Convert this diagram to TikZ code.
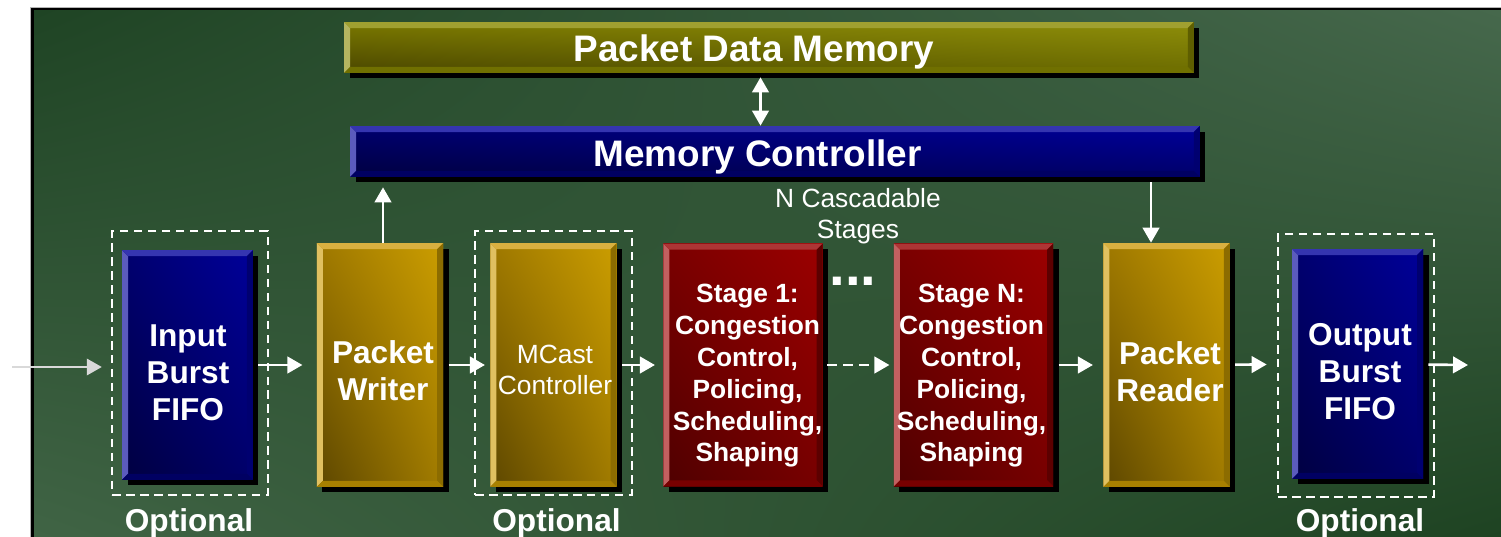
\documentclass[tikz,border=0pt]{standalone}
\usepackage{fontspec}
\setmainfont{Liberation Sans}
\usetikzlibrary{arrows.meta,shadows,shadings}

% panel colours
\definecolor{pnlDark}{HTML}{1F4424}
\definecolor{pnlLightTR}{HTML}{46684C}
\definecolor{pnlLightBL}{HTML}{406445}
\definecolor{pnlDarkBR}{HTML}{1E4322}
\definecolor{pnlRule}{HTML}{B4B4B4}
\definecolor{inGray}{HTML}{D9D9D9}
% block colours: shading (ul, ur, ll, lr) and bevels (left, top, right, bottom)
\definecolor{bluUL}{HTML}{00006E}\definecolor{bluUR}{HTML}{00009A}
\definecolor{bluLL}{HTML}{000040}\definecolor{bluLR}{HTML}{00006A}
\definecolor{bluL}{HTML}{5B5BBD}\definecolor{bluT}{HTML}{3535B0}
\definecolor{bluR}{HTML}{000070}\definecolor{bluB}{HTML}{000062}
\definecolor{gldUL}{HTML}{9E7800}\definecolor{gldUR}{HTML}{CC9E00}
\definecolor{gldLL}{HTML}{5C4600}\definecolor{gldLR}{HTML}{A27C00}
\definecolor{gldL}{HTML}{E0C060}\definecolor{gldT}{HTML}{D9B040}
\definecolor{gldR}{HTML}{8C6C00}\definecolor{gldB}{HTML}{A88000}
\definecolor{redUL}{HTML}{7A0000}\definecolor{redUR}{HTML}{9C0000}
\definecolor{redLL}{HTML}{4E0000}\definecolor{redLR}{HTML}{780000}
\definecolor{redL}{HTML}{C26060}\definecolor{redT}{HTML}{AD3535}
\definecolor{redR}{HTML}{5C0000}\definecolor{redB}{HTML}{780000}
\definecolor{olvUL}{HTML}{7A7800}\definecolor{olvUR}{HTML}{8E8E0A}
\definecolor{olvLL}{HTML}{4A4600}\definecolor{olvLR}{HTML}{6C6C00}
\definecolor{olvL}{HTML}{B5B560}\definecolor{olvT}{HTML}{A0A030}
\definecolor{olvR}{HTML}{5E5E00}\definecolor{olvB}{HTML}{707000}
\colorlet{bevL}{white}
\colorlet{bevT}{white}
\colorlet{bevR}{black}
\colorlet{bevB}{black}

\tikzset{
  bevel colors/.code n args={4}{\colorlet{bevL}{#1}\colorlet{bevT}{#2}\colorlet{bevR}{#3}\colorlet{bevB}{#4}},
  block/.style={rectangle, inner sep=0pt,
    drop shadow={shadow xshift=0.11cm, shadow yshift=-0.11cm, opacity=1, fill=black},
    path picture={
      \fill[bevL] (path picture bounding box.south west) -- (path picture bounding box.north west)
        -- ([shift={(0.12cm,-0.12cm)}]path picture bounding box.north west)
        -- ([shift={(0.12cm,0.12cm)}]path picture bounding box.south west) -- cycle;
      \fill[bevT] (path picture bounding box.north west) -- (path picture bounding box.north east)
        -- ([shift={(-0.12cm,-0.12cm)}]path picture bounding box.north east)
        -- ([shift={(0.12cm,-0.12cm)}]path picture bounding box.north west) -- cycle;
      \fill[bevR] (path picture bounding box.north east) -- (path picture bounding box.south east)
        -- ([shift={(-0.12cm,0.12cm)}]path picture bounding box.south east)
        -- ([shift={(-0.12cm,-0.12cm)}]path picture bounding box.north east) -- cycle;
      \fill[bevB] (path picture bounding box.south east) -- (path picture bounding box.south west)
        -- ([shift={(0.12cm,0.12cm)}]path picture bounding box.south west)
        -- ([shift={(-0.12cm,0.12cm)}]path picture bounding box.south east) -- cycle;
    }},
  blueblock/.style={block, upper left=bluUL, upper right=bluUR, lower left=bluLL, lower right=bluLR,
    bevel colors={bluL}{bluT}{bluR}{bluB}},
  goldblock/.style={block, upper left=gldUL, upper right=gldUR, lower left=gldLL, lower right=gldLR,
    bevel colors={gldL}{gldT}{gldR}{gldB}},
  redblock/.style={block, upper left=redUL, upper right=redUR, lower left=redLL, lower right=redLR,
    bevel colors={redL}{redT}{redR}{redB}},
  oliveblock/.style={block, upper left=olvUL, upper right=olvUR, lower left=olvLL, lower right=olvLR,
    bevel colors={olvL}{olvT}{olvR}{olvB}},
  fifo/.style={blueblock, minimum width=2.62cm, minimum height=4.6cm},
  unit/.style={goldblock, minimum width=2.53cm, minimum height=4.88cm},
  stage/.style={redblock, minimum width=3.19cm, minimum height=4.86cm},
  bar/.style={minimum width=17cm, minimum height=1.02cm},
  optbox/.style={draw=white, line width=1.4pt, dash pattern=on 0.17cm off 0.11cm, inner sep=0pt},
  bigtext/.style={text=white, inner sep=0pt, anchor=base, font=\bfseries\fontsize{21}{25}\selectfont},
  blocktext/.style={text=white, inner sep=0pt, align=center, font=\bfseries\fontsize{18}{21}\selectfont},
  stagetext/.style={text=white, inner sep=0pt, align=center, font=\bfseries\fontsize{15}{18.1}\selectfont},
  thintext/.style={text=white, inner sep=0pt, align=center, font=\fontsize{15}{18}\selectfont},
  opttext/.style={text=white, inner sep=0pt, anchor=base, font=\bfseries\fontsize{18}{21}\selectfont},
  flow/.style={draw=white, line width=1.5pt, -{Triangle[width=0.33cm,length=0.3cm]}},
  inflow/.style={draw=inGray, line width=1.1pt, -{Triangle[width=0.33cm,length=0.3cm]}}
}

\begin{document}
\begin{tikzpicture}[x=0.02cm, y=0.02cm]
  \useasboundingbox (0,0) rectangle (1501,-537);
  % framed green panel
  \fill[pnlRule] (30,-7) rectangle (1501,-537);
  \fill[black] (31,-8) rectangle (1501,-537);
  \shade[upper left=pnlDark, upper right=pnlLightTR, lower left=pnlLightBL, lower right=pnlDarkBR]
    (34,-11) rectangle (1501,-537);

  % memory side
  \node[oliveblock, bar] (pdm) at (769,-47.5) {};
  \node[blueblock, bar] (mc) at (775,-151.5) {};
  \node[bigtext] (pdmtxt) at (754,-62) {Packet Data Memory};
  \node[bigtext] (mctxt) at (757.5,-167) {Memory Controller};

  % pipeline blocks
  \node[fifo] (infifo) at (187.5,-365) {};
  \node[unit] (writer) at (380,-365) {};
  \node[unit] (mcast) at (553.5,-365) {};
  \node[stage] (stage1) at (743,-365) {};
  \node[stage] (stageN) at (973.5,-365) {};
  \node[unit] (reader) at (1166.5,-365) {};
  \node[fifo] (outfifo) at (1357.5,-364) {};

  \node[blocktext] (infifotxt) at (188,-373) {Input\\Burst\\FIFO};
  \node[blocktext] (writertxt) at (383,-371) {Packet\\Writer};
  \node[thintext] (mcasttxt) at (555,-370) {MCast\\Controller};
  \node[stagetext] (stage1txt) at (747.5,-376) {Stage 1:\\Congestion\\Control,\\Policing,\\Scheduling,\\Shaping};
  \node[stagetext] (stageNtxt) at (971.5,-376) {Stage N:\\Congestion\\Control,\\Policing,\\Scheduling,\\Shaping};
  \node[blocktext] (readertxt) at (1170,-372) {Packet\\Reader};
  \node[blocktext] (outfifotxt) at (1360,-371.5) {Output\\Burst\\FIFO};

  % optional parts
  \node[optbox, minimum width=3.12cm, minimum height=5.28cm] (inopt) at (190,-363) {};
  \node[optbox, minimum width=3.14cm, minimum height=5.28cm] (mcopt) at (553.5,-363) {};
  \node[optbox, minimum width=3.12cm, minimum height=5.26cm] (outopt) at (1356,-365.5) {};
  \node[opttext] (inopttxt) at (189,-531) {Optional};
  \node[opttext] (mcopttxt) at (556.5,-531) {Optional};
  \node[opttext] (outopttxt) at (1360,-531) {Optional};

  \node[thintext, anchor=north, font=\fontsize{15}{17.6}\selectfont] (cascade) at (858,-188) {N Cascadable\\Stages};
  \node[text=white, inner sep=0pt, anchor=base, font=\bfseries\fontsize{32}{36}\selectfont] (dots) at (853,-285) {...};

  % data path
  \coordinate (src) at (12,-367);
  \coordinate (dst) at (1468,-365);
  \draw[inflow, shorten >=0.18cm] (src) -- (src -| inopt.west);
  \draw[flow, shorten <=0.1cm, shorten >=0.28cm] (infifo) -- (writer);
  \draw[flow, shorten <=0.1cm, shorten >=0.1cm] (writer) -- (mcast);
  \draw[flow, shorten <=0.1cm, shorten >=0.16cm] (mcast) -- (stage1);
  \draw[flow, dash pattern=on 0.2cm off 0.12cm, shorten <=0.08cm, shorten >=0.08cm] (stage1) -- (stageN);
  \draw[flow, shorten <=0.1cm, shorten >=0.2cm] (stageN) -- (reader);
  \draw[flow, shorten <=0.1cm, shorten >=0.5cm] (reader) -- (outfifo);
  \draw[flow, shorten <=0.1cm] (outfifo) -- (dst);

  % memory accesses
  \draw[flow, shorten >=0.2cm] ([xshift=0.06cm]writer.north) -- ([xshift=0.06cm]writer.north |- mc.south);
  \draw[flow, shorten <=0.1cm] ([xshift=-0.31cm]reader.north |- mc.south) -- ([xshift=-0.31cm]reader.north);
  \draw[flow, {Triangle[width=0.33cm,length=0.3cm]}-{Triangle[width=0.33cm,length=0.3cm]}, shorten <=0.08cm]
    ([xshift=-0.17cm]pdm.south) -- ([xshift=-0.17cm]pdm.south |- mc.north);
\end{tikzpicture}
\end{document}
